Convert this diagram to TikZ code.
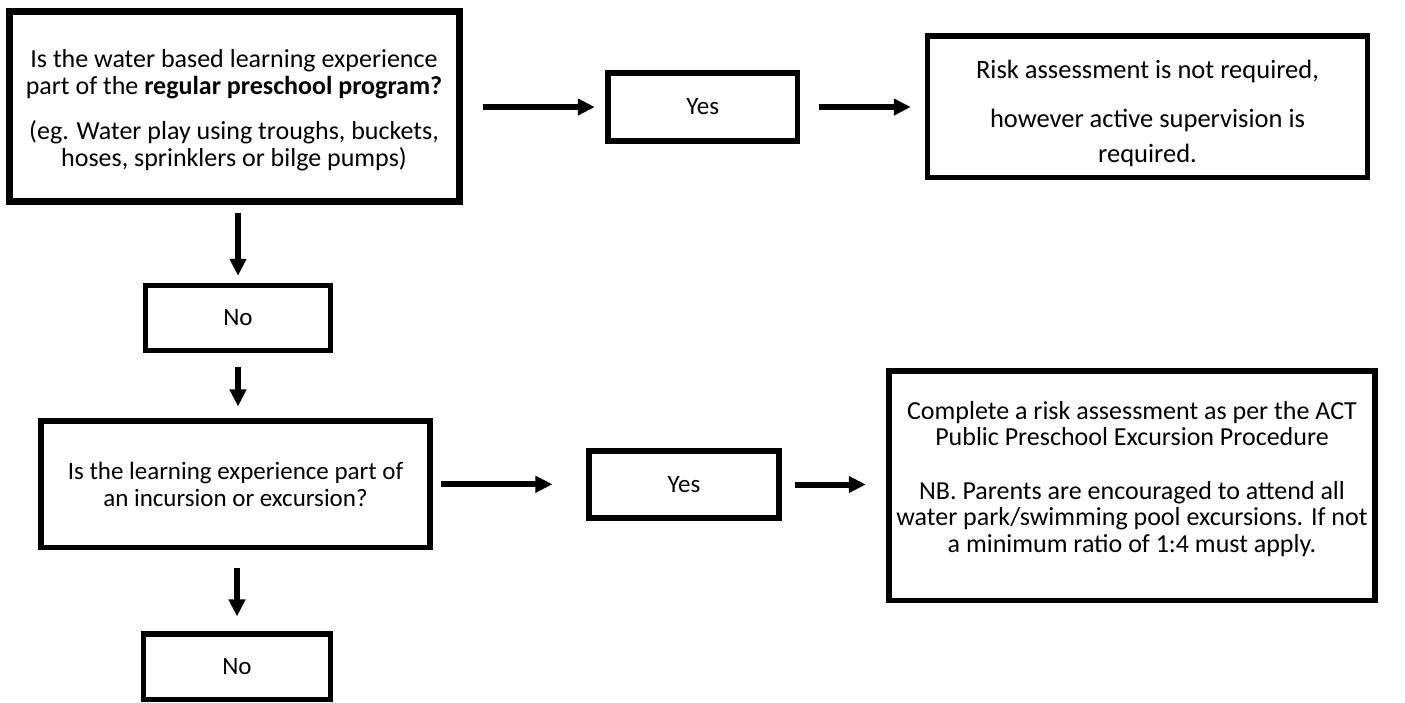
\documentclass[tikz,border=0pt]{standalone}
\usepackage{fontspec}
\setmainfont{Carlito}
\usetikzlibrary{arrows.meta}
\begin{document}
\begin{tikzpicture}[x=1pt,y=-1pt,
  box/.style={draw, line width=5.5pt, inner sep=0pt, align=center,
    font=\fontsize{25}{27}\selectfont},
  arr/.style={line width=6pt, -{Triangle[length=17pt,width=16pt]}}]
\useasboundingbox (0,0) rectangle (1405,702);
\node[box, line width=7pt, minimum width=450pt, minimum height=189.5pt,
  font=\fontsize{26}{27}\selectfont] (box1) at (234,106.25)
  {\rule{0pt}{25pt}Is the water based learning experience\\ part of the \textbf{regular preschool program?}\\[18pt]
   (eg. Water play using troughs, buckets,\\ hoses, sprinklers or bilge pumps)};
\node[box, minimum width=189.5pt, minimum height=68pt] (yes1) at (702.75,107) {Yes};
\node[box, minimum width=440pt, minimum height=141.5pt,
  font=\fontsize{26.5}{35}\selectfont] (box3) at (1147.5,106.75)
  {\rule{0pt}{32pt}Risk assessment is not required,\\[14pt] however active supervision is\\ required.};
\node[box, minimum width=185pt, minimum height=65pt] (no1) at (238,318) {No};
\node[box, minimum width=389pt, minimum height=126.5pt] (box2) at (235.5,484.25)
  {Is the learning experience part of\\ an incursion or excursion?};
\node[box, minimum width=190pt, minimum height=67pt] (yes2) at (684,484.5) {Yes};
\node[box, minimum width=486pt, minimum height=229.5pt,
  font=\fontsize{26}{26.5}\selectfont] (box4) at (1132,485.75)
  {Complete a risk assessment as per the ACT\\ Public Preschool Excursion Procedure\\[27pt]
   NB. Parents are encouraged to attend all\\ water park/swimming pool excursions. If not\\
   a minimum ratio of 1:4 must apply.\rule[-18pt]{0pt}{0pt}};
\node[box, minimum width=187pt, minimum height=65.5pt] (no2) at (237,666.75) {No};
\draw[arr, shorten <=20.5pt, shorten >=10.5pt] (box1.east |- yes1.west) -- (yes1.west);
\draw[arr, shorten <=19pt, shorten >=14pt] (yes1.east) -- (yes1.east -| box3.west);
\draw[arr, shorten <=8pt, shorten >=7pt] (no1.north |- box1.south) -- (no1.north);
\draw[arr, shorten <=13.7pt, shorten >=11.8pt] (no1.south) -- (box2.north -| no1.south);
\draw[arr, shorten <=18pt, shorten >=14.8pt] (box2.south -| no2.north) -- (no2.north);
\draw[arr, shorten <=8.2pt, shorten >=33.8pt] (box2.east) -- (box2.east -| yes2.west);
\draw[arr, shorten <=12.8pt, shorten >=20.5pt] (yes2.east) -- (yes2.east -| box4.west);
\end{tikzpicture}
\end{document}
